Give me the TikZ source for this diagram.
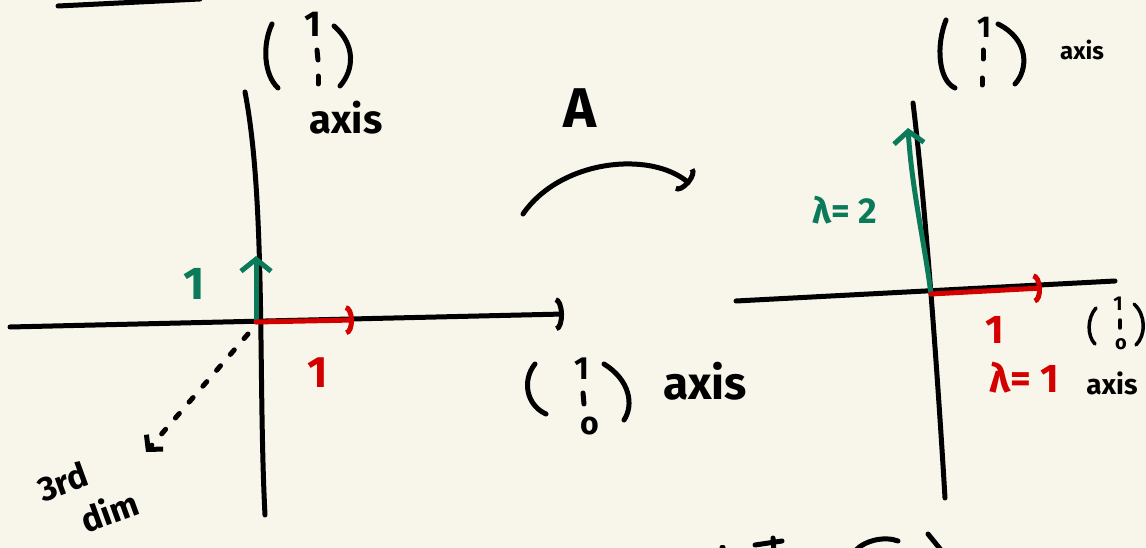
\documentclass[tikz,border=0pt]{standalone}
\usepackage{fontspec}
\setmainfont{Fira Sans}
\usetikzlibrary{arrows.meta}
\definecolor{bg}{HTML}{F8F6EA}
\definecolor{gr}{HTML}{0B7A5A}
\definecolor{rd}{HTML}{D40000}
\newcommand\fs[1]{\fontsize{#1}{#1}\selectfont\bfseries}
\begin{document}
\begin{tikzpicture}[x=1pt,y=-1pt,
  ink/.style={line width=5pt,line cap=round,line join=round},
  thinink/.style={line width=3.5pt,line cap=round,line join=round},
  axisline/.style={ink,black},
  gvec/.style={ink,gr,-{Straight Barb[length=12pt,width=30pt,line width=5pt]}},
  rvec/.style={ink,rd,-{Arc Barb[length=8pt,width=30pt,line width=5pt]}},
  arcarrow/.style={ink,black,-{Arc Barb[length=8pt,width=30pt,line width=5pt]}},
  lbl/.style={inner sep=0pt,anchor=center}]
\fill[bg] (0,0) rectangle (1146,548);
\useasboundingbox (0,0) rectangle (1146,548);

% top-left fragment
\coordinate (tl1) at (58,6); \coordinate (tl2) at (200,-1);
\draw[axisline] (tl1) -- (tl2);

% ---------- left diagram ----------
\coordinate (lvt) at (245,92);
\coordinate (lvb) at (265,515);
\coordinate (lh1) at (10,327);
\coordinate (lh2) at (564,314);
\coordinate (lo) at (256,322);
\coordinate (lg) at (256,256);
\coordinate (lr) at (354,320);
\coordinate (ld1) at (248,334);
\coordinate (ld2) at (146,452);

\draw[axisline] (lvt) .. controls (266,200) and (258,380) .. (lvb);
\draw[ink,black,-{Arc Barb[length=8pt,width=34pt,line width=5pt]}] (lh1) -- (lh2);
\draw[gvec] (lo) -- (lg);
\draw[rvec] (lo) -- (lr);
\draw[ink,black,dash pattern=on 6pt off 15pt,-{Straight Barb[length=10pt,width=22pt,line width=5pt]}] (ld1) -- (ld2);

\node[lbl,text=gr,font=\fs{46}] (l1g) at (194,284) {1};
\node[lbl,text=rd,font=\fs{44}] (l1r) at (318,373) {1};

% column vector above left vertical axis
\coordinate (p1a) at (272,24); \coordinate (p1b) at (278,88);
\coordinate (p1c) at (334,26); \coordinate (p1d) at (340,86);
\draw[ink] (p1a) .. controls (262,45) and (264,75) .. (p1b);
\draw[ink] (p1c) .. controls (356,45) and (354,70) .. (p1d);
\node[lbl,font=\fs{36}] (e11) at (313,24) {1};
\coordinate (d11) at (317,50); \coordinate (d12) at (318,60);
\coordinate (d13) at (318,76); \coordinate (d14) at (318,84);
\draw[ink] (d11) -- (d12); \draw[ink] (d13) -- (d14);
\node[lbl,font=\fs{40}] (ax1) at (346,118) {axis};

% column vector of left horizontal axis
\coordinate (p2a) at (535,364); \coordinate (p2b) at (546,414);
\coordinate (p2c) at (604,364); \coordinate (p2d) at (624,420);
\draw[ink] (p2a) .. controls (522,380) and (526,405) .. (p2b);
\draw[ink] (p2c) .. controls (630,380) and (634,405) .. (p2d);
\node[lbl,font=\fs{32}] (e21) at (582,369) {1};
\coordinate (d21) at (583,393); \coordinate (d22) at (584,404);
\draw[ink] (d21) -- (d22);
\node[lbl,font=\fs{32}] (e22) at (590,426) {o};
\node[lbl,font=\fs{46}] (ax2) at (705,381) {axis};

\node[lbl,font=\fs{34},rotate=20,align=left] (d3) at (88,496)
  {3rd\\[10pt]\hspace*{30pt}dim};

% ---------- map A ----------
\node[lbl,font=\fs{56}] (A) at (580,108) {A};
\coordinate (ca1) at (523,214);
\coordinate (ca2) at (690,184);
\draw[arcarrow] (ca1) .. controls (560,160) and (650,150) .. (ca2);

% ---------- right diagram ----------
\coordinate (rvt) at (913,103);
\coordinate (rvb) at (945,498);
\coordinate (rh1) at (736,301);
\coordinate (rh2) at (1115,281);
\coordinate (ro) at (931,294);
\coordinate (rg) at (908,128);
\coordinate (rr) at (1042,288);

\draw[axisline] (rvt) .. controls (925,200) and (938,380) .. (rvb);
\draw[axisline] (rh1) -- (rh2);
\draw[gvec] (ro) .. controls (924,240) and (912,190) .. (rg);
\draw[rvec] (ro) -- (rr);

\node[lbl,text=gr,font=\fs{36}] (lam2) at (845,210) {λ= 2};
\node[lbl,text=rd,font=\fs{40}] (r1) at (995,330) {1};
\node[lbl,text=rd,font=\fs{40}] (lam1) at (1024,378) {λ= 1};

% column vector above right vertical axis
\coordinate (p3a) at (946,20); \coordinate (p3b) at (955,88);
\coordinate (p3c) at (998,24); \coordinate (p3d) at (1015,84);
\draw[ink] (p3a) .. controls (936,45) and (938,80) .. (p3b);
\draw[ink] (p3c) .. controls (1030,40) and (1028,70) .. (p3d);
\node[lbl,font=\fs{30}] (e31) at (984,27) {1};
\coordinate (d31) at (983,50); \coordinate (d32) at (983,59);
\coordinate (d33) at (982,78); \coordinate (d34) at (982,85);
\draw[ink] (d31) -- (d32); \draw[ink] (d33) -- (d34);
\node[lbl,font=\fs{24}] (ax3) at (1082,50) {axis};

% column vector of right horizontal axis
\coordinate (p4a) at (1096,308); \coordinate (p4b) at (1095,344);
\coordinate (p4c) at (1134,304); \coordinate (p4d) at (1136,345);
\draw[thinink] (p4a) .. controls (1087,318) and (1087,336) .. (p4b);
\draw[thinink] (p4c) .. controls (1146,315) and (1146,335) .. (p4d);
\node[lbl,font=\fs{20}] (e41) at (1118,304) {1};
\coordinate (d41) at (1120,320); \coordinate (d42) at (1120,328);
\draw[thinink] (d41) -- (d42);
\node[lbl,font=\fs{20}] (e42) at (1121,344) {o};
\node[lbl,font=\fs{28}] (ax4) at (1112,383) {axis};

% bottom clipped fragments
\coordinate (b0) at (722,547); \coordinate (b0e) at (723,547);
\coordinate (b1) at (755,545); \coordinate (b2) at (782,541);
\coordinate (b3) at (773,538); \coordinate (b4) at (774,552);
\coordinate (b5) at (855,551); \coordinate (b6) at (898,541);
\coordinate (b7) at (928,534); \coordinate (b8) at (941,550);
\draw[axisline] (b0) -- (b0e);
\draw[axisline] (b1) -- (b2);
\draw[axisline] (b3) -- (b4);
\draw[axisline] (b5) .. controls (865,540) and (885,536) .. (b6);
\draw[axisline] (b7) -- (b8);
\end{tikzpicture}
\end{document}
